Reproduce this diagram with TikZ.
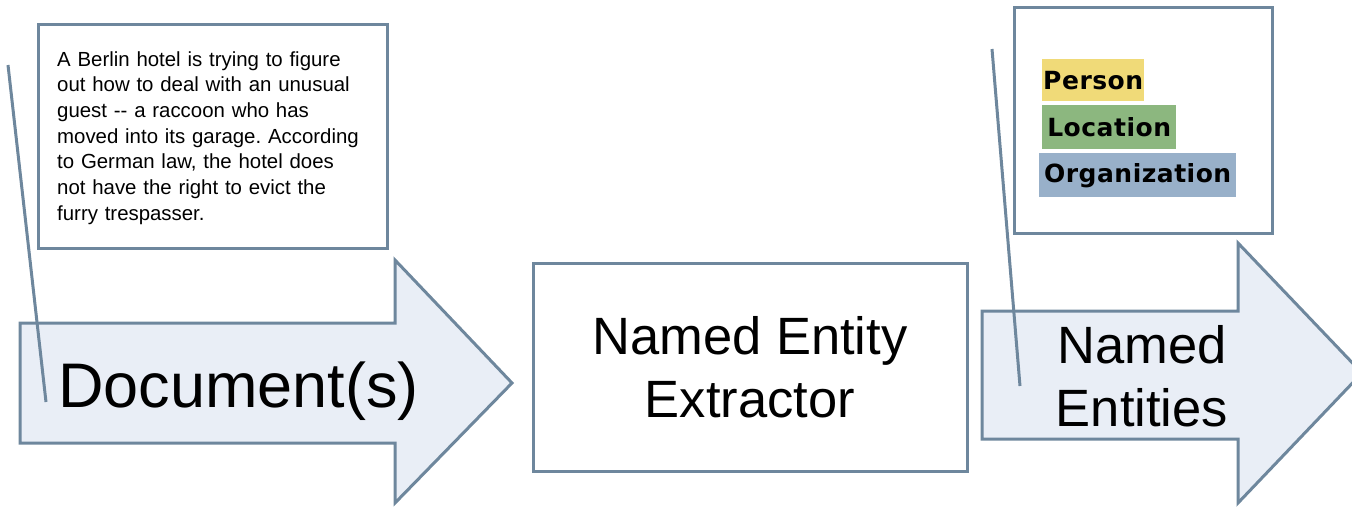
\documentclass[tikz,border=0pt]{standalone}
\usepackage{fontspec}
\setmainfont{Liberation Sans}
\newfontfamily\entfont[LetterSpace=2]{DejaVu Sans}
\definecolor{edge}{RGB}{110,135,157}
\definecolor{arrowfill}{RGB}{233,238,246}
\definecolor{perscol}{RGB}{240,218,120}
\definecolor{loccol}{RGB}{140,183,127}
\definecolor{orgcol}{RGB}{152,176,201}
\frenchspacing
\begin{document}
\begin{tikzpicture}[x=1pt,y=-1pt,
  boxstyle/.style={draw=edge, line width=3pt, fill=white, inner sep=0pt},
  arrowshape/.style={draw=edge, line width=3pt, fill=arrowfill, line join=miter},
  pointer/.style={draw=edge, line width=3pt},
  enttag/.style={anchor=north west, inner xsep=1pt, inner ysep=0pt, font=\entfont\bfseries\fontsize{25}{30}\selectfont, align=left},
  bigtext/.style={inner sep=0pt, align=center, font=\fontsize{52.5}{63}\selectfont}]
\useasboundingbox (0,0) rectangle (1352,506);
\clip (0,0) rectangle (1352,506);
% arrows
\path[arrowshape] (20,323) -- (395,323) -- (395,260) -- (512,383) -- (395,503) -- (395,443) -- (20,443) -- cycle;
\path[arrowshape] (982,311) -- (1238,311) -- (1238,243) -- (1362,373) -- (1238,503) -- (1238,439) -- (982,439) -- cycle;
% document text box
\node[boxstyle, anchor=north west, minimum width=349pt, minimum height=224pt] (docbox) at (37,23) {};
\node[anchor=base west, inner sep=0pt, text width=320pt, align=left, font=\fontsize{20.4}{25.7}\selectfont] (doctext) at (57,66)
  {A Berlin hotel is trying to figure\\ out how to deal with an unusual\\ guest -{}- a raccoon who has\\ moved into its garage. According\\ to German law, the hotel does\\ not have the right to evict the\\ furry trespasser.};
% labels on arrows
\node[anchor=base west, inner sep=0pt, font=\fontsize{63}{70}\selectfont] (docs) at (58,407) {Document(s)};
\node[bigtext] (ents) at (1142,376) {Named\\Entities};
% extractor box
\node[boxstyle, bigtext, minimum width=434pt, minimum height=208pt] (ner) at (750,367) {Named Entity\\Extractor};
% entities box
\node[boxstyle, anchor=north west, minimum width=258pt, minimum height=226pt] (entbox) at (1013,6) {};
\node[enttag, fill=perscol, minimum width=102pt, minimum height=42pt] (pers) at (1042,59) {Person};
\node[enttag, fill=loccol, minimum width=134pt, minimum height=44pt] (loc) at (1042,105) {Location};
\node[enttag, fill=orgcol, minimum width=197pt, minimum height=44pt] (org) at (1039,153) {Organization};
% pointers
\coordinate (p1a) at (8,65);
\coordinate (p1b) at (46,402);
\coordinate (p2a) at (992,49);
\coordinate (p2b) at (1020,386);
\draw[pointer] (p1a) -- (p1b);
\draw[pointer] (p2a) -- (p2b);
\end{tikzpicture}
\end{document}
